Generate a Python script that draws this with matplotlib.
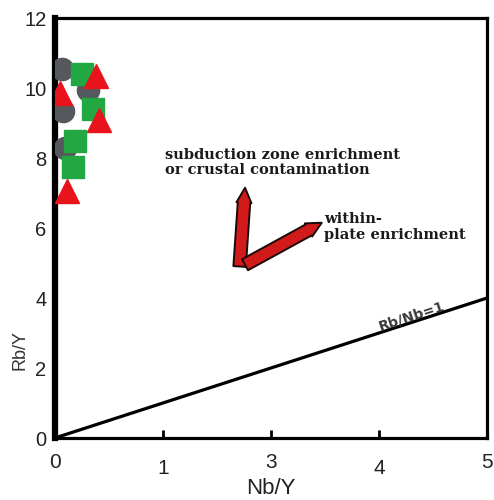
import matplotlib
matplotlib.use("Agg")
import matplotlib.pyplot as plt

# Sample groups (Nb/Y, Rb/Y)
gray_x = [0.065, 0.31, 0.075, 0.09]
gray_y = [10.55, 9.95, 9.35, 8.3]
green_x = [0.25, 0.35, 0.19, 0.17]
green_y = [10.4, 9.4, 8.5, 7.75]
red_x = [0.38, 0.05, 0.41, 0.11]
red_y = [10.35, 9.85, 9.1, 7.05]

# Reference line Rb/Nb = 1
ref_x = [0, 4]
ref_y = [0, 4]

# Axis ticks
xtick_pos = [0, 1, 2, 3, 4]
xtick_labels = ["0", "1", "3", "4", "5"]
ytick_pos = [0, 2, 4, 6, 8, 10, 12]

# Trend arrows (tail, head) in data units
arrow_up = ((1.71, 4.9), (1.76, 7.15))
arrow_wp = ((1.76, 4.95), (2.47, 6.15))

fig = plt.figure(figsize=(4.94, 5.0), dpi=100)
ax = fig.add_axes([0.111, 0.124, 0.875, 0.84])

ax.plot(gray_x, gray_y, "o", color="#55585d", markersize=16, zorder=3)
ax.plot(green_x, green_y, "s", color="#21a843", markersize=16, zorder=4)
ax.plot(red_x, red_y, "^", color="#e8131b", markersize=17, zorder=5)

ax.plot(ref_x, ref_y, color="black", linewidth=2.3, zorder=2)
ax.text(3.3, 3.47, "Rb/Nb=1", rotation=18, ha="center", va="center",
        fontsize=10, fontweight="bold", color="#3a3a3a", family="DejaVu Sans")

for (tail, head) in (arrow_up, arrow_wp):
    ax.annotate("", xy=head, xytext=tail,
                arrowprops=dict(arrowstyle="simple,head_length=0.9,head_width=0.9,tail_width=0.75",
                                facecolor="#d11a1a", edgecolor="#1a0a0a", linewidth=1.4,
                                shrinkA=0, shrinkB=0, mutation_scale=12),
                zorder=6)

serif = dict(family="DejaVu Serif", fontweight="bold", fontsize=10.5, color="#1a1a1a")
ax.text(1.02, 7.87, "subduction zone enrichment\nor crustal contamination",
        ha="left", va="center", linespacing=1.12, **serif)
ax.text(2.49, 6.03, "within-\nplate enrichment",
        ha="left", va="center", linespacing=1.12, **serif)

ax.set_xlim(0, 4)
ax.set_ylim(0, 12)
ax.set_xticks(xtick_pos)
ax.set_xticklabels(xtick_labels)
ax.set_yticks(ytick_pos)
ax.set_yticklabels([str(v) for v in ytick_pos])

for lab in ax.get_xticklabels():
    lab.set_fontfamily("Liberation Sans")
    lab.set_fontsize(15)
    lab.set_color("#222222")
for lab in ax.get_yticklabels():
    lab.set_fontfamily("Liberation Sans")
    lab.set_fontsize(14.5)
    lab.set_color("#222222")

ax.tick_params(axis="x", direction="in", length=6, width=2, pad=11)
ax.tick_params(axis="y", direction="in", length=0, pad=6)

# staggered baseline for two of the x labels
for i, tick in enumerate(ax.xaxis.get_major_ticks()):
    if i in (1, 3):
        tick.set_pad(15)

ax.spines["left"].set_linewidth(4.5)
for s in ("top", "right", "bottom"):
    ax.spines[s].set_linewidth(2.3)

ax.set_xlabel("Nb/Y", fontfamily="Liberation Sans", fontsize=16, color="#222222")
ax.xaxis.set_label_coords(0.5, -0.095)
ax.set_ylabel("Rb/Y", fontfamily="Liberation Sans", fontsize=13, color="#333333")
ax.yaxis.set_label_coords(-0.062, 0.21)

fig.savefig("out.png", dpi=100)
